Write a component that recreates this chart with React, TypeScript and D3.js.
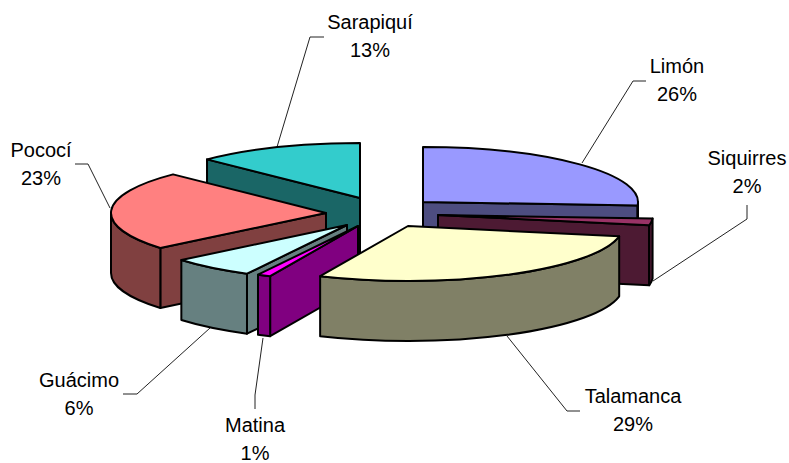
import React from "react";
import * as d3 from "d3";

const categories = ["Limón", "Siquirres", "Talamanca", "Matina", "Guácimo", "Pococí", "Sarapiquí"];
const shares = [26, 2, 28.7, 1, 6.3, 23.4, 12.6];
const topColors = ["#9999FF", "#993366", "#FFFFCC", "#FF00FF", "#CCFFFF", "#FF8080", "#33CCCC"];
const sideColors = ["#4D4D80", "#4D1A33", "#808066", "#800080", "#668080", "#804040", "#1A6666"];

// layout: apex of every exploded slice on screen
const apexX = [423, 438, 408, 358, 347, 326, 360];
const apexY = [202, 215, 226, 226, 225, 213, 198];
const drawOrder = [6, 0, 5, 1, 4, 3, 2];
const RX = 215;
const RY = 55;
const DEPTH = 60;

const labelX = [677, 747, 633, 255, 79, 41, 370];
const labelY = [73, 165, 403, 432, 387, 157, 29];
const leaders: [number, number][][] = [
  [[582, 163], [633, 81], [646, 81]],
  [[653, 281], [747, 219], [747, 205]],
  [[507, 336], [567, 411], [580, 411]],
  [[263, 338], [255, 395], [255, 409]],
  [[210, 328], [137, 394], [123, 394]],
  [[110, 208], [88, 164], [75, 164]],
  [[277, 147], [310, 37], [324, 37]],
];

const arcs = d3.pie<number>().sort(null).startAngle(0).endAngle(2 * Math.PI)(shares);
const px = d3.scaleLinear().domain([-1, 1]).range([-RX, RX]);
const py = d3.scaleLinear().domain([-1, 1]).range([RY, -RY]);
const line = d3.line();

function rim(i: number, a: number, dz = 0): [number, number] {
  return [apexX[i] + px(Math.sin(a)), apexY[i] + py(Math.cos(a)) + dz];
}
function pt(p: [number, number]) {
  return `${p[0].toFixed(2)} ${p[1].toFixed(2)}`;
}
function topPath(i: number, a0: number, a1: number) {
  return `M${apexX[i]} ${apexY[i]}L${pt(rim(i, a0))}A${RX} ${RY} 0 0 1 ${pt(rim(i, a1))}Z`;
}
function facePath(i: number, a: number) {
  const o: [number, number] = [apexX[i], apexY[i]];
  const e = rim(i, a);
  return line([o, e, [e[0], e[1] + DEPTH], [o[0], o[1] + DEPTH]]) + "Z";
}
function wallPath(i: number, a0: number, a1: number) {
  const s = Math.max(a0, Math.PI / 2);
  const t = Math.min(a1, (3 * Math.PI) / 2);
  if (t <= s) return null;
  return `M${pt(rim(i, s))}A${RX} ${RY} 0 0 1 ${pt(rim(i, t))}L${pt(rim(i, t, DEPTH))}A${RX} ${RY} 0 0 0 ${pt(rim(i, s, DEPTH))}Z`;
}

const SW = 2;

export default function App() {
  return (
    <svg
      width={789}
      height={463}
      viewBox="0 0 789 463"
      style={{ position: "fixed", left: 0, top: 0, background: "#fff" }}
    >
      {leaders.map((l, i) => (
        <path key={i} d={line(l) as string} fill="none" stroke="#222" strokeWidth={1} />
      ))}
      {drawOrder.map((i) => {
        const a0 = arcs[i].startAngle;
        const a1 = arcs[i].endAngle;
        const common = { stroke: "#000", strokeWidth: SW, strokeLinejoin: "round" as const };
        const wall = wallPath(i, a0, a1);
        return (
          <g key={i}>
            {Math.sin(a0) < -1e-6 && <path d={facePath(i, a0)} fill={sideColors[i]} {...common} />}
            {Math.sin(a1) > 1e-6 && <path d={facePath(i, a1)} fill={sideColors[i]} {...common} />}
            {wall && <path d={wall} fill={sideColors[i]} {...common} />}
            <path d={topPath(i, a0, a1)} fill={topColors[i]} {...common} />
          </g>
        );
      })}
      <g fontFamily="'Liberation Sans', Arial, sans-serif" fontSize={20} fill="#000" textAnchor="middle">
        {categories.map((c, i) => (
          <g key={c}>
            <text x={labelX[i]} y={labelY[i]}>{c}</text>
            <text x={labelX[i]} y={labelY[i] + 28}>{Math.round(shares[i])}%</text>
          </g>
        ))}
      </g>
    </svg>
  );
}
